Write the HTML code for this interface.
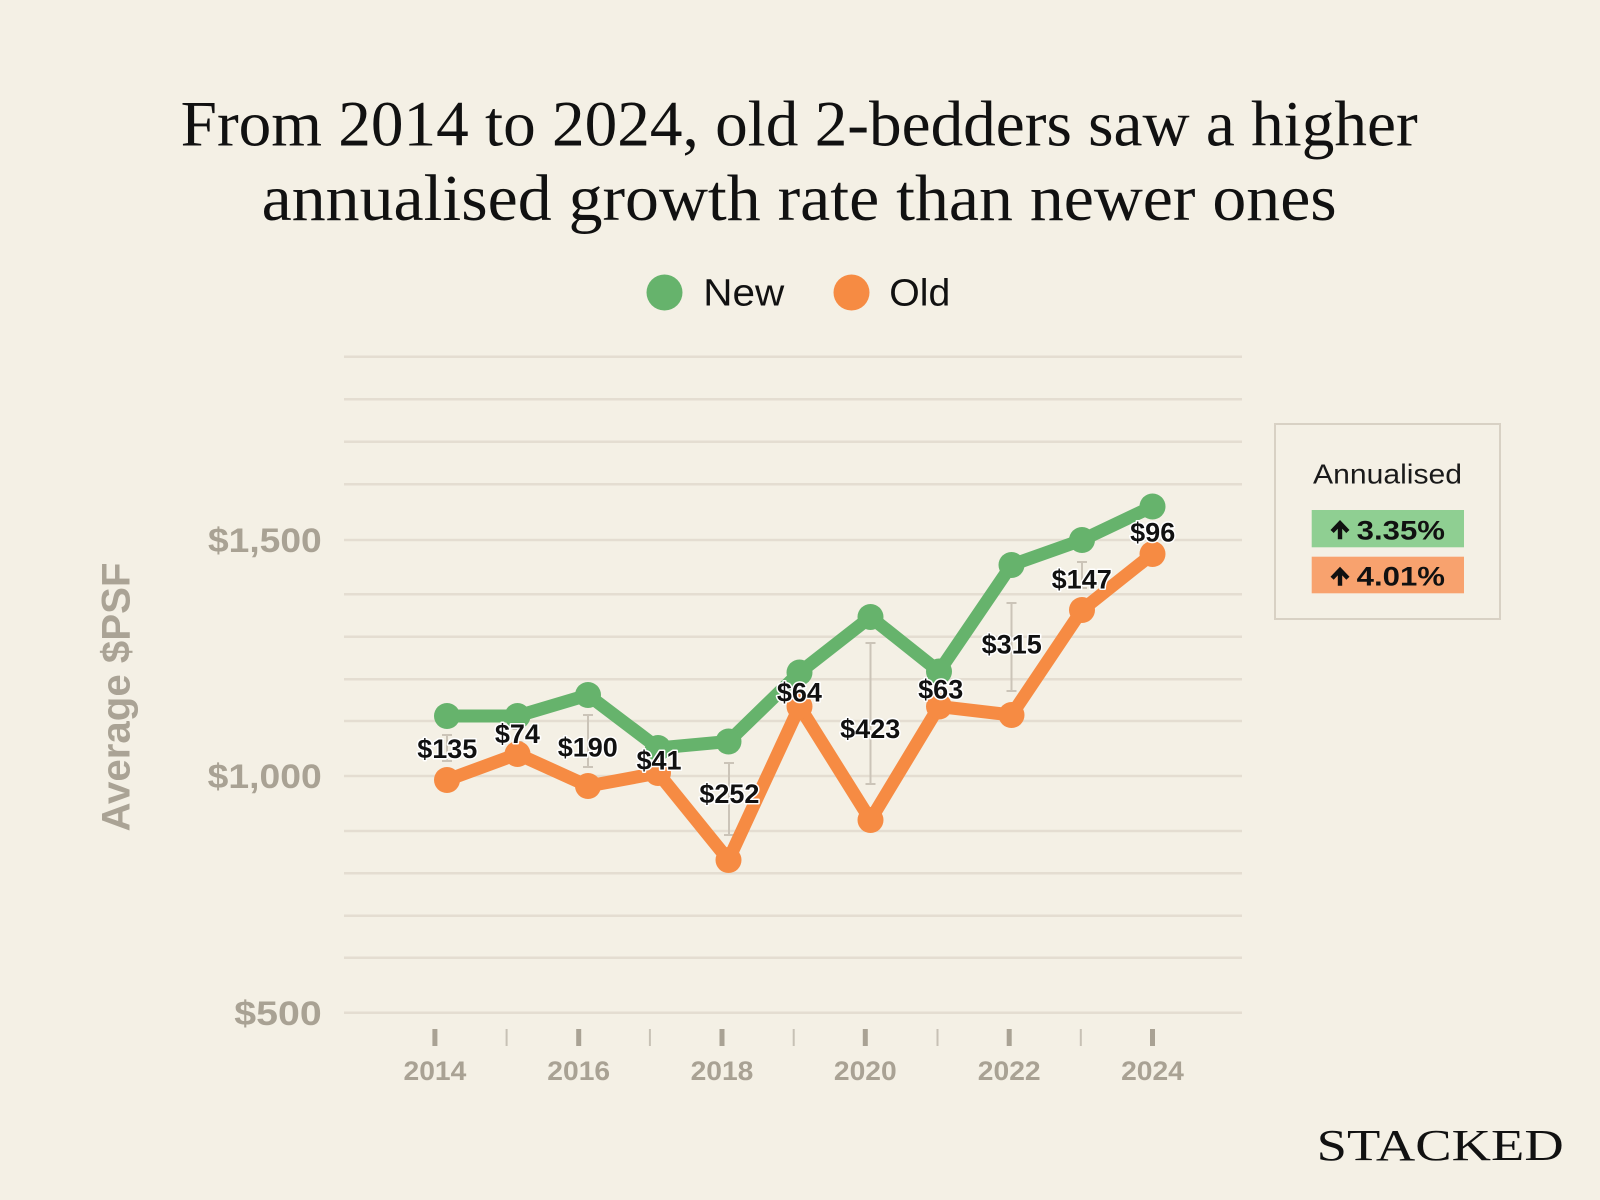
<!DOCTYPE html>
<html>
<head>
<meta charset="utf-8">
<style>
  html, body { margin: 0; padding: 0; background: #f4f0e5; }
  svg { display: block; }
</style>
</head>
<body>
<svg width="1600" height="1200" viewBox="0 0 1600 1200" xmlns="http://www.w3.org/2000/svg">
  <rect x="0" y="0" width="1600" height="1200" fill="#f4f0e5"/>

  <!-- Title -->
  <g font-family="'Liberation Serif', serif" fill="#111">
    <text x="180.7" y="145.7" font-size="65" textLength="1237" lengthAdjust="spacingAndGlyphs">From 2014 to 2024, old 2-bedders saw a higher</text>
    <text x="261.7" y="220" font-size="66" textLength="1075" lengthAdjust="spacingAndGlyphs">annualised growth rate than newer ones</text>
  </g>

  <!-- Legend -->
  <circle cx="664.5" cy="292.5" r="18" fill="#66b36c"/>
  <text x="703.3" y="305.7" font-family="'Liberation Sans', sans-serif" font-size="38" fill="#111" textLength="81" lengthAdjust="spacingAndGlyphs">New</text>
  <circle cx="851.5" cy="292.5" r="18" fill="#f68b43"/>
  <text x="889.3" y="305.7" font-family="'Liberation Sans', sans-serif" font-size="38" fill="#111" textLength="61" lengthAdjust="spacingAndGlyphs">Old</text>

  <!-- Gridlines -->
  <g stroke="#e4ddd1" stroke-width="2.5">
    <line x1="344" x2="1242" y1="356.7" y2="356.7"/>
    <line x1="344" x2="1242" y1="399.3" y2="399.3"/>
    <line x1="344" x2="1242" y1="441.7" y2="441.7"/>
    <line x1="344" x2="1242" y1="484.3" y2="484.3"/>
    <line x1="344" x2="1242" y1="540" y2="540"/>
    <line x1="344" x2="1242" y1="594.3" y2="594.3"/>
    <line x1="344" x2="1242" y1="636.7" y2="636.7"/>
    <line x1="344" x2="1242" y1="679.3" y2="679.3"/>
    <line x1="344" x2="1242" y1="721" y2="721"/>
    <line x1="344" x2="1242" y1="776" y2="776"/>
    <line x1="344" x2="1242" y1="831" y2="831"/>
    <line x1="344" x2="1242" y1="873.3" y2="873.3"/>
    <line x1="344" x2="1242" y1="915.7" y2="915.7"/>
    <line x1="344" x2="1242" y1="957.7" y2="957.7"/>
    <line x1="344" x2="1242" y1="1012.7" y2="1012.7"/>
  </g>

  <!-- Y tick labels -->
  <g font-family="'Liberation Sans', sans-serif" font-weight="bold" font-size="34" fill="#a9a294" text-anchor="end">
    <text x="321.7" y="552.2" textLength="113.7" lengthAdjust="spacingAndGlyphs">$1,500</text>
    <text x="321.7" y="788.2" textLength="114" lengthAdjust="spacingAndGlyphs">$1,000</text>
    <text x="321.7" y="1024.9" textLength="87.4" lengthAdjust="spacingAndGlyphs">$500</text>
  </g>

  <!-- Y axis title -->
  <text transform="translate(129.5,697) rotate(-90)" x="0" y="0" text-anchor="middle" font-family="'Liberation Sans', sans-serif" font-weight="bold" font-size="40" fill="#aaa395" textLength="269" lengthAdjust="spacingAndGlyphs">Average $PSF</text>

  <!-- X ticks -->
  <g stroke="#a9a294" stroke-width="5">
    <line x1="434.9" x2="434.9" y1="1029" y2="1046"/>
    <line x1="578.7" x2="578.7" y1="1029" y2="1046"/>
    <line x1="722" x2="722" y1="1029" y2="1046"/>
    <line x1="865.3" x2="865.3" y1="1029" y2="1046"/>
    <line x1="1009.2" x2="1009.2" y1="1029" y2="1046"/>
    <line x1="1152.5" x2="1152.5" y1="1029" y2="1046"/>
  </g>
  <g stroke="#c7c1b5" stroke-width="2">
    <line x1="506.6" x2="506.6" y1="1029" y2="1046"/>
    <line x1="649.9" x2="649.9" y1="1029" y2="1046"/>
    <line x1="793.7" x2="793.7" y1="1029" y2="1046"/>
    <line x1="937.5" x2="937.5" y1="1029" y2="1046"/>
    <line x1="1080.8" x2="1080.8" y1="1029" y2="1046"/>
  </g>
  <g font-family="'Liberation Sans', sans-serif" font-weight="bold" font-size="27" fill="#a9a294" text-anchor="middle">
    <text x="434.9" y="1080" textLength="62.8" lengthAdjust="spacingAndGlyphs">2014</text>
    <text x="578.7" y="1080" textLength="62.8" lengthAdjust="spacingAndGlyphs">2016</text>
    <text x="722" y="1080" textLength="62.8" lengthAdjust="spacingAndGlyphs">2018</text>
    <text x="865.3" y="1080" textLength="62.8" lengthAdjust="spacingAndGlyphs">2020</text>
    <text x="1009.2" y="1080" textLength="62.8" lengthAdjust="spacingAndGlyphs">2022</text>
    <text x="1152.5" y="1080" textLength="62.8" lengthAdjust="spacingAndGlyphs">2024</text>
  </g>

  <!-- Whiskers -->
  <g stroke="#cbc4b8" stroke-width="2" fill="none">
    <path d="M447 735 V761 M442 735 H452 M442 761 H452"/>
    <path d="M517.5 729 V742 M512.5 729 H522.5 M512.5 742 H522.5"/>
    <path d="M588 715 V767 M583 715 H593 M583 767 H593"/>
    <path d="M729 763 V835 M724 763 H734 M724 835 H734"/>
    <path d="M870.5 643 V784 M865.5 643 H875.5 M865.5 784 H875.5"/>
    <path d="M1011.5 603 V691 M1006.5 603 H1016.5 M1006.5 691 H1016.5"/>
    <path d="M1082 562 V588 M1077 562 H1087 M1077 588 H1087"/>
  </g>

  <!-- New series -->
  <g>
    <polyline fill="none" stroke="#66b36c" stroke-width="13" stroke-linejoin="round" stroke-linecap="round"
      points="447,716 517.5,716 588,695 658,748 728.5,741.5 799.5,672.5 870.5,617 939,671.5 1011.5,565 1082,540 1152.5,506.5"/>
    <g fill="#66b36c">
      <circle cx="447" cy="716" r="13"/>
      <circle cx="517.5" cy="716" r="13"/>
      <circle cx="588" cy="695" r="13"/>
      <circle cx="658" cy="748" r="13"/>
      <circle cx="728.5" cy="741.5" r="13"/>
      <circle cx="799.5" cy="672.5" r="13"/>
      <circle cx="870.5" cy="617" r="13"/>
      <circle cx="939" cy="671.5" r="13"/>
      <circle cx="1011.5" cy="565" r="13"/>
      <circle cx="1082" cy="540" r="13"/>
      <circle cx="1152.5" cy="506.5" r="13"/>
    </g>
  </g>

  <!-- Old series -->
  <g>
    <polyline fill="none" stroke="#f68b43" stroke-width="13" stroke-linejoin="round" stroke-linecap="round"
      points="447,780 517.5,754 588,786 658,773 728.5,860 799.5,706.5 870.5,820 939,706.5 1011.5,715 1082,610 1152.5,554"/>
    <g fill="#f68b43">
      <circle cx="447" cy="780" r="13"/>
      <circle cx="517.5" cy="754" r="13"/>
      <circle cx="588" cy="786" r="13"/>
      <circle cx="658" cy="773" r="13"/>
      <circle cx="728.5" cy="860" r="13"/>
      <circle cx="799.5" cy="706.5" r="13"/>
      <circle cx="870.5" cy="820" r="13"/>
      <circle cx="939" cy="706.5" r="13"/>
      <circle cx="1011.5" cy="715" r="13"/>
      <circle cx="1082" cy="610" r="13"/>
      <circle cx="1152.5" cy="554" r="13"/>
    </g>
  </g>

  <!-- Data labels -->
  <g font-family="'Liberation Sans', sans-serif" font-weight="bold" font-size="27" fill="#111" text-anchor="middle"
     stroke="#ffffff" stroke-width="3" stroke-linejoin="round" paint-order="stroke">
    <text x="447.3" y="758">$135</text>
    <text x="517.4" y="743">$74</text>
    <text x="587.8" y="756.4">$190</text>
    <text x="659" y="769.7">$41</text>
    <text x="729.4" y="803">$252</text>
    <text x="799.4" y="701.4">$64</text>
    <text x="870.2" y="738">$423</text>
    <text x="940.7" y="698.7">$63</text>
    <text x="1011.7" y="653.7">$315</text>
    <text x="1081.7" y="588.7">$147</text>
    <text x="1152.7" y="541.4">$96</text>
  </g>

  <!-- Annualised box -->
  <rect x="1275" y="424" width="225" height="195" fill="none" stroke="#d8d1c4" stroke-width="2"/>
  <text x="1387.5" y="483.3" text-anchor="middle" font-family="'Liberation Sans', sans-serif" font-size="28" fill="#1a1a1a" textLength="149" lengthAdjust="spacingAndGlyphs">Annualised</text>
  <rect x="1311.7" y="510" width="152.3" height="37.3" fill="#8fcf92"/>
  <rect x="1311.7" y="556.7" width="152.3" height="36.6" fill="#f8a26e"/>
  <!-- arrows -->
  <g fill="#111">
    <path d="M1340 520 L1349.5 530 L1346.3 533 L1342.2 528.7 L1342.2 539.3 L1337.8 539.3 L1337.8 528.7 L1333.7 533 L1330.5 530 Z"/>
    <path d="M1340 566.7 L1349.5 576.7 L1346.3 579.7 L1342.2 575.4 L1342.2 585.7 L1337.8 585.7 L1337.8 575.4 L1333.7 579.7 L1330.5 576.7 Z"/>
  </g>
  <g font-family="'Liberation Sans', sans-serif" font-weight="bold" font-size="27" fill="#111">
    <text x="1356.7" y="539.3" textLength="88.3" lengthAdjust="spacingAndGlyphs">3.35%</text>
    <text x="1356.7" y="585.7" textLength="88.3" lengthAdjust="spacingAndGlyphs">4.01%</text>
  </g>

  <!-- Logo -->
  <text x="1316.7" y="1160" font-family="'Liberation Serif', serif" font-size="44" fill="#111" textLength="247" lengthAdjust="spacingAndGlyphs">STACKED</text>
</svg>
</body>
</html>
